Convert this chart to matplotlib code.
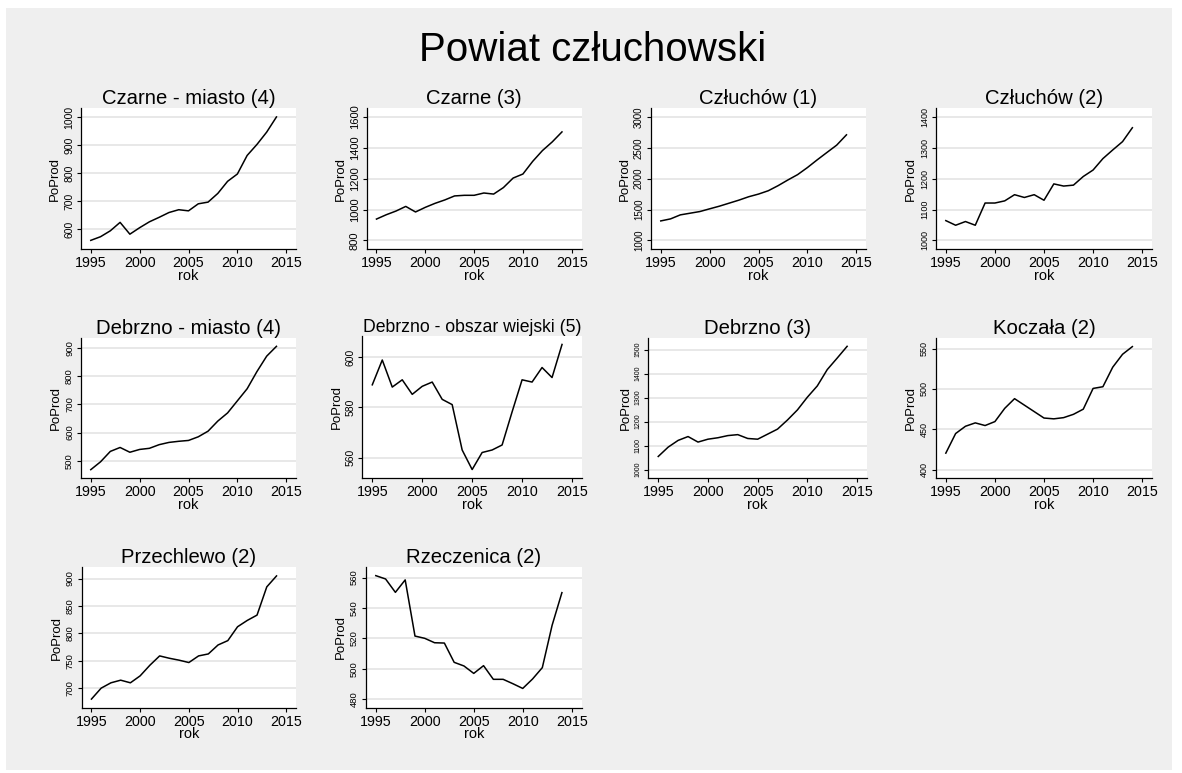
import numpy as np
import matplotlib
matplotlib.use("Agg")
import matplotlib.pyplot as plt
from matplotlib.patches import Rectangle

plt.rcParams['font.family'] = ['Liberation Sans', 'DejaVu Sans']

rok = np.arange(1995, 2015)

tytuly = ["Czarne - miasto (4)", "Czarne (3)", "Człuchów (1)", "Człuchów (2)",
          "Debrzno - miasto (4)", "Debrzno - obszar wiejski (5)", "Debrzno (3)", "Koczała (2)",
          "Przechlewo (2)", "Rzeczenica (2)"]

czarne_miasto = [561, 574, 595, 625, 583, 606, 627, 643, 660, 670,
                 666, 691, 697, 728, 771, 797, 863, 902, 946, 1000]
czarne = [938, 966, 990, 1020, 984, 1014, 1040, 1062, 1088, 1092,
          1092, 1107, 1100, 1142, 1204, 1230, 1312, 1382, 1438, 1503]
czluchow_1 = [1315, 1348, 1413, 1440, 1467, 1511, 1554, 1603, 1652, 1707,
              1750, 1804, 1886, 1978, 2065, 2179, 2304, 2424, 2543, 2710]
czluchow_2 = [1064, 1049, 1061, 1049, 1121, 1121, 1128, 1148, 1139, 1148,
              1130, 1183, 1176, 1179, 1207, 1228, 1265, 1293, 1320, 1365]
debrzno_miasto = [468, 496, 533, 547, 530, 540, 544, 557, 565, 569,
                  572, 585, 605, 641, 670, 713, 756, 817, 872, 907]
debrzno_wies = [589.0, 598.9, 588.1, 591.0, 585.2, 588.4, 590.1, 583.2, 581.1, 563.0,
                555.2, 562.0, 563.0, 565.0, 578.2, 591.0, 590.1, 595.9, 591.9, 605.1]
debrzno = [1055, 1094, 1122, 1138, 1115, 1127, 1133, 1142, 1146, 1130,
           1127, 1148, 1169, 1207, 1249, 1302, 1349, 1417, 1465, 1514]
koczala = [420.5, 444.8, 453.8, 458.0, 454.7, 459.6, 476.0, 488.0, 480.0, 472.0,
           464.0, 463.0, 464.5, 468.6, 475.0, 500.7, 502.8, 527.0, 543.0, 552.5]
przechlewo = [680, 700, 709.7, 714.5, 709.7, 722.4, 741.8, 758.8, 754.5, 751,
              746.7, 758.8, 762.4, 778.8, 786.7, 812, 823.6, 833.3, 884.8, 904.8]
rzeczenica = [561.3, 559.1, 550.3, 558.5, 521.5, 520.0, 517.1, 516.9, 504.2, 501.8,
              496.9, 502.0, 493.0, 493.0, 490.1, 487.0, 493.2, 500.7, 528.6, 550.1]

serie = [czarne_miasto, czarne, czluchow_1, czluchow_2, debrzno_miasto,
         debrzno_wies, debrzno, koczala, przechlewo, rzeczenica]

yticks = [[600, 700, 800, 900, 1000],
          [800, 1000, 1200, 1400, 1600],
          [1000, 1500, 2000, 2500, 3000],
          [1000, 1100, 1200, 1300, 1400],
          [500, 600, 700, 800, 900],
          [560, 580, 600],
          [1000, 1100, 1200, 1300, 1400, 1500],
          [400, 450, 500, 550],
          [700, 750, 800, 850, 900],
          [480, 500, 520, 540, 560]]
xticks = [1995, 2000, 2005, 2010, 2015]

# layout in pixels: left, top, right, bottom
W, H = 1182, 773
boxes = [(81, 108.3, 296, 249), (366.7, 108.3, 581.5, 249), (651, 108.3, 866, 249), (936, 108.3, 1152, 249),
         (81, 337.7, 296, 478.3), (362.3, 335.7, 582, 478.3), (648.3, 337.7, 867, 478.3), (936, 338, 1152, 478.3),
         (81.7, 567.3, 296, 707.7), (366, 567, 581.5, 707.7)]
ytick_size = [7.5, 8, 7, 6.5, 6.8, 7.5, 5, 6.5, 6.8, 6.8]
title_size = [14.6, 14.6, 14.6, 14.6, 14.6, 12.7, 14.6, 14.6, 14.6, 14.6]

fig = plt.figure(figsize=(W / 100, H / 100), dpi=100)
fig.patch.set_facecolor("white")
fig.patches.append(Rectangle((6 / W, 1 - 770 / H), 1166 / W, 762 / H,
                             transform=fig.transFigure, facecolor="#efefef",
                             edgecolor="none", zorder=-10))

fig.text(593 / W, 1 - 61 / H, "Powiat człuchowski", ha="center", va="baseline",
         fontsize=29)

for i, (y, t) in enumerate(zip(serie, tytuly)):
    l, tp, r, b = boxes[i]
    ax = fig.add_axes([l / W, 1 - b / H, (r - l) / W, (b - tp) / H])
    ax.set_facecolor("white")
    ax.plot(rok, y, color="black", lw=1.1)
    tk = yticks[i]
    lo = min(min(y), tk[0])
    hi = max(max(y), tk[-1])
    pad = 0.07 * (hi - lo)
    ax.set_ylim(lo - pad, hi + pad)
    ax.set_xlim(1994, 2016)
    ax.set_yticks(tk)
    ax.set_yticklabels([str(v) for v in tk], rotation=90, va="center",
                       fontsize=ytick_size[i])
    ax.set_xticks(xticks)
    ax.tick_params(axis="x", labelsize=10.3, length=3, width=0.8, pad=2)
    ax.tick_params(axis="y", length=3, width=0.8, pad=2)
    ax.grid(axis="y", color="#e6e6e6", lw=1.3)
    ax.set_axisbelow(True)
    for s in ["top", "right"]:
        ax.spines[s].set_visible(False)
    for s in ["left", "bottom"]:
        ax.spines[s].set_linewidth(0.9)
    ax.set_title(t, fontsize=title_size[i], pad=1)
    ax.set_xlabel("rok", fontsize=10.5, labelpad=-1)
    ax.set_ylabel("PoProd", fontsize=9.5, labelpad=2)

fig.savefig("out.png", dpi=100)
